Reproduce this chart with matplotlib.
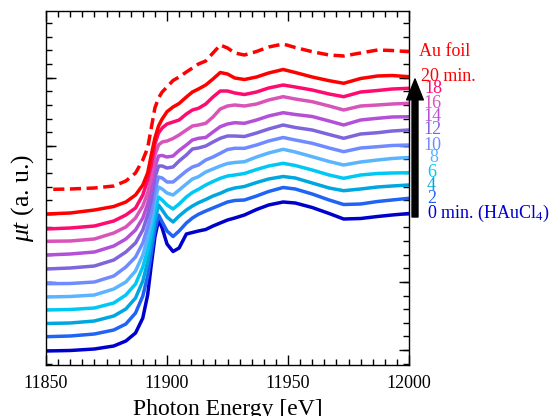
import numpy as np
import matplotlib
matplotlib.use("Agg")
import matplotlib.pyplot as plt
from matplotlib.ticker import FixedLocator, MultipleLocator, FormatStrFormatter

plt.rcParams['font.family'] = ['Liberation Serif', 'DejaVu Serif']
plt.rcParams['mathtext.fontset'] = 'custom'
plt.rcParams['mathtext.rm'] = 'Liberation Serif'
plt.rcParams['mathtext.it'] = 'Liberation Serif:italic'

# Photon energy grid (eV)
energy = [11850, 11860, 11870, 11878, 11883, 11887, 11890, 11892, 11893.5, 11895,
          11896.5, 11898, 11900, 11902.5, 11905, 11908, 11910.5, 11913, 11916, 11919,
          11922, 11925, 11928, 11932, 11937, 11942, 11948, 11953, 11960, 11967,
          11973, 11980, 11987, 11993, 12000]

# Offset spectra (a.u.)
mu_00 = [0.14, 0.145, 0.16, 0.19, 0.24, 0.32, 0.47, 0.70, 1.00, 1.28, 1.45, 1.37, 1.21, 1.135, 1.17,
         1.31, 1.325, 1.34, 1.355, 1.39, 1.42, 1.45, 1.47, 1.50, 1.555, 1.60, 1.63, 1.62, 1.575,
         1.515, 1.46, 1.465, 1.485, 1.50, 1.515]
mu_02 = [0.283, 0.29, 0.31, 0.35, 0.41, 0.52, 0.69, 0.89, 1.11, 1.35, 1.50, 1.43, 1.34, 1.285, 1.34,
         1.42, 1.47, 1.507, 1.54, 1.57, 1.60, 1.63, 1.645, 1.65, 1.69, 1.735, 1.775, 1.76, 1.71,
         1.65, 1.605, 1.61, 1.635, 1.65, 1.667]
mu_04 = [0.415, 0.42, 0.44, 0.49, 0.56, 0.67, 0.84, 1.03, 1.22, 1.45, 1.60, 1.55, 1.48, 1.43, 1.49,
         1.55, 1.59, 1.623, 1.655, 1.69, 1.717, 1.75, 1.77, 1.785, 1.825, 1.86, 1.885, 1.87, 1.82,
         1.77, 1.743, 1.76, 1.78, 1.79, 1.80]
mu_06 = [0.55, 0.555, 0.57, 0.62, 0.70, 0.81, 0.98, 1.15, 1.32, 1.55, 1.68, 1.65, 1.60, 1.56, 1.61,
         1.68, 1.725, 1.757, 1.80, 1.835, 1.867, 1.89, 1.90, 1.915, 1.955, 1.99, 2.017, 1.995, 1.95,
         1.90, 1.867, 1.90, 1.915, 1.92, 1.923]
mu_08 = [0.68, 0.685, 0.70, 0.76, 0.83, 0.94, 1.10, 1.27, 1.43, 1.65, 1.78, 1.76, 1.72, 1.70, 1.75,
         1.81, 1.86, 1.883, 1.93, 1.96, 1.99, 2.015, 2.025, 2.033, 2.08, 2.12, 2.157, 2.13, 2.083,
         2.035, 2.00, 2.03, 2.05, 2.065, 2.075]
mu_10 = [0.813, 0.815, 0.83, 0.89, 0.98, 1.08, 1.22, 1.38, 1.53, 1.75, 1.88, 1.87, 1.83, 1.83, 1.88,
         1.94, 1.98, 2.00, 2.05, 2.08, 2.117, 2.155, 2.167, 2.167, 2.20, 2.24, 2.275, 2.25, 2.217,
         2.17, 2.133, 2.17, 2.183, 2.195, 2.20]
mu_12 = [0.96, 0.97, 0.99, 1.05, 1.13, 1.22, 1.35, 1.50, 1.65, 1.87, 1.99, 1.99, 1.97, 1.98, 2.04,
         2.10, 2.16, 2.17, 2.19, 2.23, 2.267, 2.29, 2.29, 2.285, 2.32, 2.36, 2.40, 2.375, 2.35,
         2.305, 2.267, 2.31, 2.323, 2.34, 2.35]
mu_14 = [1.10, 1.11, 1.13, 1.19, 1.26, 1.35, 1.47, 1.61, 1.75, 1.98, 2.09, 2.095, 2.08, 2.09, 2.145,
         2.20, 2.25, 2.267, 2.275, 2.33, 2.383, 2.41, 2.423, 2.417, 2.45, 2.49, 2.523, 2.505, 2.485,
         2.44, 2.40, 2.45, 2.467, 2.48, 2.483]
mu_16 = [1.237, 1.24, 1.26, 1.32, 1.38, 1.47, 1.59, 1.72, 1.87, 2.10, 2.20, 2.23, 2.24, 2.265, 2.30,
         2.35, 2.39, 2.40, 2.417, 2.48, 2.56, 2.59, 2.60, 2.59, 2.61, 2.65, 2.683, 2.66, 2.633,
         2.59, 2.55, 2.59, 2.60, 2.61, 2.617]
mu_18 = [1.36, 1.37, 1.39, 1.44, 1.50, 1.57, 1.70, 1.85, 2.00, 2.21, 2.32, 2.37, 2.41, 2.43, 2.45,
         2.51, 2.55, 2.567, 2.61, 2.68, 2.74, 2.74, 2.72, 2.705, 2.73, 2.77, 2.80, 2.78, 2.75,
         2.71, 2.683, 2.73, 2.745, 2.76, 2.767]
mu_20 = [1.51, 1.52, 1.55, 1.585, 1.63, 1.70, 1.80, 1.92, 2.10, 2.27, 2.39, 2.46, 2.533, 2.58, 2.615,
         2.68, 2.73, 2.76, 2.80, 2.86, 2.925, 2.91, 2.87, 2.855, 2.88, 2.92, 2.955, 2.925, 2.88,
         2.843, 2.817, 2.865, 2.89, 2.895, 2.883]

energy_au = [11853] + energy[1:]
mu_au = [1.757, 1.76, 1.77, 1.79, 1.84, 1.92, 2.05, 2.17, 2.37, 2.57, 2.67, 2.73, 2.78, 2.845, 2.88,
         2.93, 2.97, 3.01, 3.04, 3.12, 3.20, 3.17, 3.12, 3.10, 3.135, 3.18, 3.21, 3.175, 3.133,
         3.10, 3.09, 3.12, 3.15, 3.145, 3.133]

series = [mu_00, mu_02, mu_04, mu_06, mu_08, mu_10, mu_12, mu_14, mu_16, mu_18, mu_20]
labels = ['0 min. (HAuCl$_4$)', '2', '4', '6', '8', '10', '12', '14', '16', '18', '20 min.']
colors = ['#0000CC', '#1F64F5', '#00A6E0', '#00C8F5', '#5AB4FF', '#6E8CFF',
          '#8064DC', '#B450D8', '#D854B8', '#FF0A6E', '#FF0000']
label_dx = [18, 18, 18, 18, 20, 14, 14, 14, 14, 15, 12]

fig = plt.figure(figsize=(5.49, 4.16), dpi=100)
ax = fig.add_axes([46/549, 51/416, 363/549, 354/416])

for y, c in zip(series, colors):
    ax.plot(energy, y, color=c, lw=2.5, solid_joinstyle='round', solid_capstyle='round')
ax.plot(energy_au, mu_au, color='#FF0000', lw=2.5, dashes=(3.2, 1.6))

ax.set_xlim(11850, 12000)
ax.set_ylim(0, 3.54)

for y, c, lab, dx in zip(series, colors, labels, label_dx):
    ax.annotate(lab, xy=(12000, y[-1]), xytext=(dx, 0), textcoords='offset pixels',
                color=c, fontsize=13, va='center', ha='left', annotation_clip=False)
ax.annotate('Au foil', xy=(12000, mu_au[-1]), xytext=(10, 0), textcoords='offset pixels',
            color='#FF0000', fontsize=13, va='center', ha='left', annotation_clip=False)

# time arrow
ax.annotate('', xy=(415/549, 1-79/416), xytext=(415/549, 1-217/416),
            xycoords='figure fraction', textcoords='figure fraction',
            arrowprops=dict(width=4.3, headwidth=12, headlength=15, shrink=0, color='black'))

ax.xaxis.set_major_locator(FixedLocator([11850, 11900, 11950, 12000]))
ax.xaxis.set_minor_locator(MultipleLocator(5))
ax.xaxis.set_major_formatter(FormatStrFormatter('%d'))
ax.yaxis.set_major_locator(FixedLocator(np.arange(0.15, 3.56, 0.6807)))
ax.yaxis.set_minor_locator(FixedLocator(np.arange(0.0139, 3.56, 0.13614)))
ax.tick_params(which='both', direction='in', top=True, right=True, width=1)
ax.tick_params(which='major', length=7, labelsize=13, pad=7)
ax.tick_params(which='minor', length=4)
ax.set_yticklabels([])
for s in ax.spines.values():
    s.set_linewidth(1)

fig.text(227.5/549, 1/416, 'Photon Energy [eV]', fontsize=17, ha='center', va='baseline')
fig.text(23/549, 1-197.5/416, r'$\mu t$ (a. u.)', fontsize=18.5, rotation=90, ha='center', va='center')

fig.savefig('out.png', dpi=100)
